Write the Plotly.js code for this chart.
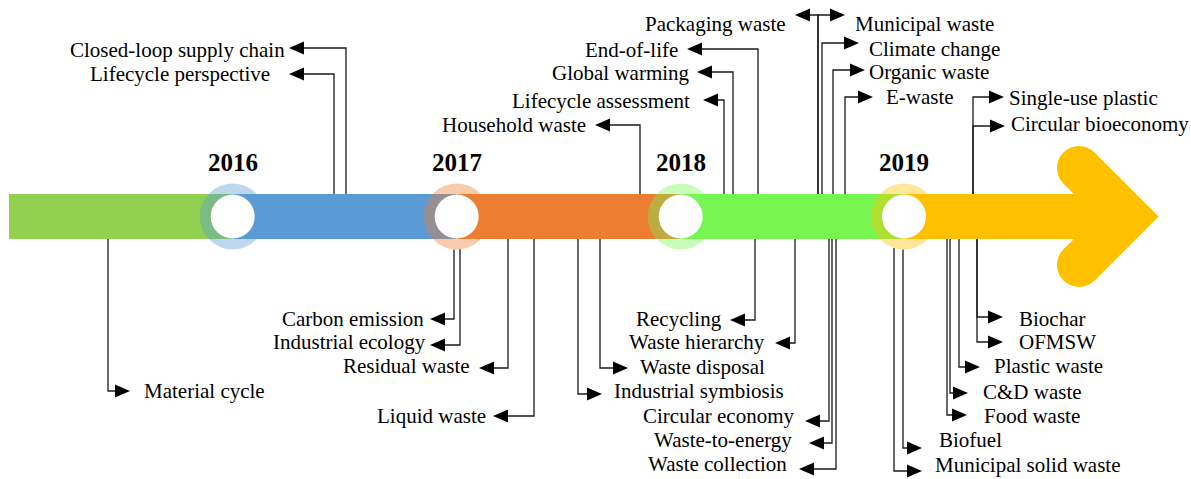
<!DOCTYPE html>
<html>
<head>
<meta charset="utf-8">
<script src="https://cdn.plot.ly/plotly-3.0.1.min.js"></script>
<style>
  html, body { margin: 0; padding: 0; background: #ffffff; }
  #chart { width: 1191px; height: 479px; }
</style>
</head>
<body>
<div id="chart"></div>
<script>
// ---------------- DATA ----------------
const years = ['2016', '2017', '2018', '2019'];
const yearX = [232.7, 456.7, 680.7, 904];          // milestone positions on the timeline
const segmentColors = ['#92D050', '#5B9BD5', '#ED7D31', '#77F652', '#FFC000'];

const keywords = [
  'Closed-loop supply chain', 'Lifecycle perspective', 'Household waste', 'Lifecycle assessment',
  'Global warming', 'End-of-life', 'Packaging waste', 'Municipal waste', 'Climate change',
  'Organic waste', 'E-waste', 'Single-use plastic', 'Circular bioeconomy',
  'Material cycle', 'Carbon emission', 'Industrial ecology', 'Residual waste', 'Liquid waste',
  'Industrial symbiosis', 'Waste disposal', 'Recycling', 'Waste hierarchy', 'Circular economy',
  'Waste-to-energy', 'Waste collection', 'Biochar', 'OFMSW', 'Plastic waste', 'C&D waste',
  'Food waste', 'Biofuel', 'Municipal solid waste'
];
// where each keyword's connector leaves the timeline
const stemX = [346, 334, 640, 724, 733, 758, 818, 818, 822, 833, 845, 973, 973,
               108, 454, 460, 508, 534, 578, 600, 755, 795, 829, 832, 836, 977, 977, 959, 950, 947, 903, 894];
// side of the timeline ('up' / 'down') and arrow direction ('L' / 'R')
const side = ['up','up','up','up','up','up','up','up','up','up','up','up','up',
              'down','down','down','down','down','down','down','down','down','down','down','down',
              'down','down','down','down','down','down','down'];
const pointing = ['L','L','L','L','L','L','L','R','R','R','R','R','R',
                  'R','L','L','L','L','R','R','L','L','L','L','L','R','R','R','R','R','R','R'];
// label row of each keyword
const arrowY = [48, 74, 125, 100, 72, 49, 15, 15, 43, 70, 97, 97, 126,
                391, 319, 345, 368, 416, 394, 368, 320, 343, 421, 443, 469, 317, 342, 367, 393, 415, 448, 471];
const tipX = [289, 289, 595, 703, 697, 687, 795, 845, 859, 865, 873, 1004, 1005,
              130, 430, 430, 479, 493, 602, 628, 730, 775, 805, 809, 799, 1003, 1003, 980, 968, 967, 922, 922];
const textX = [287, 272, 588, 692, 692, 680, 788, 853, 867, 867, 884, 1007, 1009,
               142, 426, 428, 472, 488, 612, 638, 724, 767, 797, 794, 789, 1017, 1017, 992, 981, 982, 937, 933];
const textY = [50, 74, 125, 101, 73, 49.5, 24, 23.5, 49, 72, 97, 98, 124,
               390.5, 319, 342, 365.5, 415.5, 390.5, 366.5, 318.5, 341.5, 416, 440, 464, 318.5, 342, 365.5, 391.5, 415.5, 440, 464.5];

// ---------------- GEOMETRY / STYLE ----------------
const G = {
  W: 1191, H: 479,
  bandTop: 194, bandBottom: 239, cy: 216.5,
  startX: 9, bandEnd: 1100,
  ringR: 33, holeR: 22, ringAlpha: 0.4,
  capX: 1079, capDY: 48.5, armHalf: 22,
  headLen: 15, headHalf: 6.5,
  serif: '"Liberation Serif", "Times New Roman", Times, serif',
  kwSize: 21, yearSize: 25, yearY: 162
};

function hexToRgba(hex, a) {
  const n = parseInt(hex.slice(1), 16);
  return `rgba(${(n >> 16) & 255},${(n >> 8) & 255},${n & 255},${a})`;
}

const shapes = [];
// band segments
const bounds = [G.startX].concat(yearX).concat([G.bandEnd]);
for (let i = 0; i < segmentColors.length; i++) {
  shapes.push({type: 'rect', layer: 'below', xref: 'x', yref: 'y',
    x0: bounds[i], x1: bounds[i + 1], y0: G.bandTop, y1: G.bandBottom,
    fillcolor: segmentColors[i], line: {width: 0}});
}
// arrow head (chevron with rounded outer ends)
const s = G.armHalf / Math.SQRT2;
const c1y = G.cy - G.capDY, c2y = G.cy + G.capDY;
const tip = G.capX + G.capDY + G.armHalf * Math.SQRT2;
const notch = G.capX + G.capDY - G.armHalf * Math.SQRT2;
const yel = segmentColors[segmentColors.length - 1];
shapes.push({type: 'path', layer: 'below', fillcolor: yel, line: {width: 0},
  path: `M${G.capX + s},${c1y - s} L${tip},${G.cy} L${G.capX + s},${c2y + s} L${G.capX - s},${c2y - s} L${notch},${G.cy} L${G.capX - s},${c1y + s} Z`});
[c1y, c2y].forEach(cyy => shapes.push({type: 'circle', layer: 'below', fillcolor: yel, line: {width: 0},
  x0: G.capX - G.armHalf, x1: G.capX + G.armHalf, y0: cyy - G.armHalf, y1: cyy + G.armHalf}));
// milestone rings
yearX.forEach((x, i) => {
  shapes.push({type: 'circle', layer: 'below', fillcolor: hexToRgba(segmentColors[i + 1], G.ringAlpha), line: {width: 0},
    x0: x - G.ringR, x1: x + G.ringR, y0: G.cy - G.ringR, y1: G.cy + G.ringR});
  shapes.push({type: 'circle', layer: 'below', fillcolor: '#ffffff', line: {width: 0},
    x0: x - G.holeR, x1: x + G.holeR, y0: G.cy - G.holeR, y1: G.cy + G.holeR});
});

// connectors
const lx = [], ly = [];
const annotations = [];
keywords.forEach((kw, i) => {
  const x = stemX[i];
  let edge = side[i] === 'up' ? G.bandTop : G.bandBottom;
  yearX.forEach(cx => {
    const dx = x - cx;
    if (Math.abs(dx) < G.ringR) {
      const dy = Math.sqrt(G.ringR * G.ringR - dx * dx);
      edge = side[i] === 'up' ? Math.min(edge, G.cy - dy) : Math.max(edge, G.cy + dy);
    }
  });
  const base = pointing[i] === 'L' ? tipX[i] + G.headLen : tipX[i] - G.headLen;
  lx.push(x, x, base, null);
  ly.push(edge, arrowY[i], arrowY[i], null);
  shapes.push({type: 'path', layer: 'above', fillcolor: '#000000', line: {width: 0},
    path: `M${tipX[i]},${arrowY[i]} L${base},${arrowY[i] - G.headHalf} L${base},${arrowY[i] + G.headHalf} Z`});
  annotations.push({x: textX[i], y: textY[i], xref: 'x', yref: 'y', text: kw, showarrow: false,
    xanchor: pointing[i] === 'L' ? 'right' : 'left', yanchor: 'middle',
    font: {family: G.serif, size: G.kwSize, color: '#000000'}});
});
years.forEach((yr, i) => annotations.push({x: yearX[i], y: G.yearY, xref: 'x', yref: 'y',
  text: '<b>' + yr + '</b>', showarrow: false, xanchor: 'center', yanchor: 'middle',
  font: {family: G.serif, size: G.yearSize, color: '#000000'}}));

const traces = [{type: 'scatter', mode: 'lines', x: lx, y: ly, connectgaps: false,
  line: {color: '#1a1a1a', width: 1.3}, hoverinfo: 'skip', showlegend: false}];

const layout = {
  width: G.W, height: G.H, margin: {l: 0, r: 0, t: 0, b: 0},
  paper_bgcolor: '#ffffff', plot_bgcolor: '#ffffff', showlegend: false,
  xaxis: {range: [0, G.W], visible: false, fixedrange: true},
  yaxis: {range: [G.H, 0], visible: false, fixedrange: true},
  shapes: shapes, annotations: annotations
};
Plotly.newPlot('chart', traces, layout, {displayModeBar: false, staticPlot: true});
</script>
</body>
</html>
